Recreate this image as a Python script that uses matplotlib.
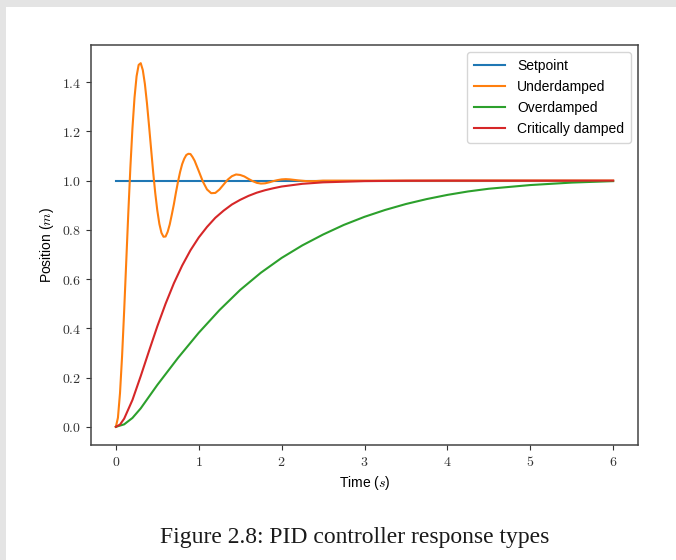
"""PID controller response types: step response of three damping cases."""

import matplotlib
matplotlib.use("Agg")
import matplotlib.pyplot as plt
from matplotlib import font_manager
from matplotlib.patches import Rectangle
from matplotlib.ticker import FuncFormatter

# values
setpoint_t = [0.0, 6.0]
setpoint_y = [1.0, 1.0]

under_t = [0.000, 0.025, 0.050, 0.075, 0.100, 0.125, 0.150, 0.175, 0.200, 0.225,
           0.250, 0.275, 0.300, 0.325, 0.350, 0.375, 0.400, 0.425, 0.450, 0.475,
           0.500, 0.525, 0.550, 0.575, 0.600, 0.625, 0.650, 0.675, 0.700, 0.725,
           0.750, 0.775, 0.800, 0.825, 0.850, 0.875, 0.900, 0.925, 0.950, 0.975,
           1.00, 1.05, 1.10, 1.15, 1.20, 1.25, 1.30, 1.35, 1.40, 1.45,
           1.50, 1.55, 1.60, 1.65, 1.70, 1.75, 1.80, 1.85, 1.90, 1.95,
           2.00, 2.05, 2.10, 2.20, 2.30, 2.40, 2.50, 3.00, 4.00, 5.00, 6.00]
under_y = [0.000, 0.037, 0.137, 0.287, 0.470, 0.669, 0.868, 1.053, 1.212, 1.337,
           1.424, 1.470, 1.477, 1.449, 1.393, 1.315, 1.224, 1.129, 1.035, 0.950,
           0.879, 0.824, 0.788, 0.772, 0.773, 0.792, 0.822, 0.862, 0.904, 0.952,
           0.996, 1.035, 1.067, 1.089, 1.104, 1.109, 1.108, 1.096, 1.081, 1.060,
           1.039, 0.996, 0.964, 0.949, 0.950, 0.964, 0.984, 1.004, 1.018, 1.025,
           1.023, 1.017, 1.007, 0.998, 0.991, 0.988, 0.989, 0.993, 0.998, 1.002,
           1.005, 1.006, 1.005, 1.001, 0.998, 0.998, 1.000, 1.000, 1.000, 1.000, 1.000]

over_t = [0.0, 0.1, 0.2, 0.3, 0.5, 0.75, 1.0, 1.25, 1.5, 1.75, 2.0, 2.25,
          2.5, 2.75, 3.0, 3.25, 3.5, 3.75, 4.0, 4.25, 4.5, 5.0, 5.5, 6.0]
over_y = [0.000, 0.010, 0.036, 0.075, 0.170, 0.280, 0.382, 0.474, 0.556, 0.626,
          0.686, 0.737, 0.781, 0.820, 0.853, 0.881, 0.905, 0.925, 0.942, 0.956,
          0.967, 0.982, 0.992, 0.998]

crit_t = [0.0, 0.05, 0.1, 0.2, 0.3, 0.4, 0.5, 0.6, 0.7, 0.8, 0.9, 1.0, 1.1, 1.2,
          1.3, 1.4, 1.5, 1.6, 1.7, 1.8, 1.9, 2.0, 2.25, 2.5, 3.0, 3.5, 4.0, 5.0, 6.0]
crit_y = [0.000, 0.009, 0.033, 0.109, 0.206, 0.308, 0.408, 0.500, 0.583, 0.655,
          0.717, 0.769, 0.812, 0.849, 0.878, 0.903, 0.922, 0.938, 0.951, 0.961,
          0.969, 0.976, 0.987, 0.993, 0.998, 0.9995, 1.000, 1.000, 1.000]

labels = ["Setpoint", "Underdamped", "Overdamped", "Critically damped"]
caption = "Figure 2.8: PID controller response types"


def pick_font(candidates, fallback="DejaVu Sans"):
    names = {f.name for f in font_manager.fontManager.ttflist}
    for name in candidates:
        if name in names:
            return name
    return fallback


sans = pick_font(["Liberation Sans Narrow", "Liberation Sans"])
serif = pick_font(["Liberation Serif"], "DejaVu Serif")

plt.rcParams["font.family"] = sans
plt.rcParams["mathtext.fontset"] = "cm"

W, H = 676, 560
fig = plt.figure(figsize=(W / 100, H / 100), dpi=100)
fig.patch.set_facecolor("#e4e4e4")
# white page area, grey strip on top and left like the screenshot
fig.add_artist(Rectangle((6 / W, 0), 1, 1 - 7 / H, transform=fig.transFigure,
                         facecolor="white", edgecolor="none", zorder=0))

ax = fig.add_axes([91 / W, 1 - 445 / H, (638 - 91) / W, (445 - 45) / H])

lw = 1.5
ax.plot(setpoint_t, setpoint_y, color="C0", linewidth=lw, label=labels[0])
ax.plot(under_t, under_y, color="C1", linewidth=lw, label=labels[1])
ax.plot(over_t, over_y, color="C2", linewidth=lw, label=labels[2])
ax.plot(crit_t, crit_y, color="C3", linewidth=lw, label=labels[3])

ax.xaxis.set_major_formatter(FuncFormatter(lambda v, _: f"${v:.0f}$"))
ax.yaxis.set_major_formatter(FuncFormatter(lambda v, _: f"${v:.1f}$"))
ax.tick_params(labelsize=10, colors="#333333")
for spine in ax.spines.values():
    spine.set_color("#444444")
    spine.set_linewidth(1.1)

ax.set_xlabel("Time ($s$)", fontsize=10)
ax.set_ylabel("Position ($m$)", fontsize=10)
ax.legend(loc="upper right", fontsize=10, handlelength=2.2,
          handletextpad=0.9, borderpad=0.5)

fig.text(355 / W, 1 - 538 / H, caption, ha="center", va="center",
         family=serif, fontsize=17, color="#1a1a1a")

fig.savefig("out.png", dpi=100, facecolor=fig.get_facecolor())
